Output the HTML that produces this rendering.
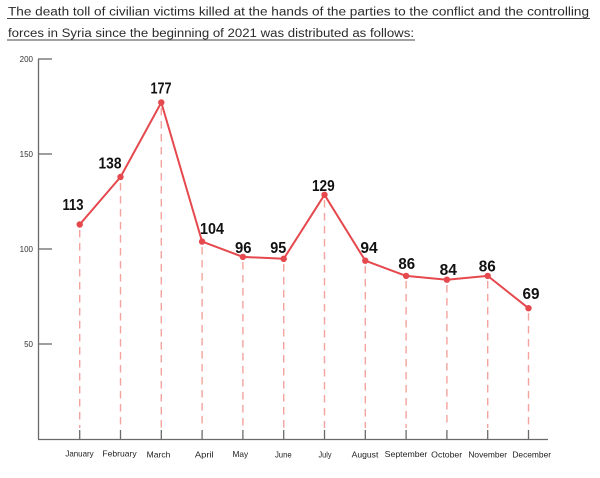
<!DOCTYPE html>
<html>
<head>
<meta charset="utf-8">
<style>
html,body{margin:0;padding:0;background:#fff;}
svg{display:block;}
text{font-family:"Liberation Sans",sans-serif;}
</style>
</head>
<body>
<svg width="600" height="478" viewBox="0 0 600 478" xmlns="http://www.w3.org/2000/svg">
<rect width="600" height="478" fill="#fff"/>
<!-- Title -->
<text x="8" y="15.5" font-size="11.5" fill="#2a2a2a" textLength="581" lengthAdjust="spacingAndGlyphs">The death toll of civilian victims killed at the hands of the parties to the conflict and the controlling</text>
<line x1="7" y1="18.5" x2="590" y2="18.5" stroke="#444" stroke-width="1"/>
<text x="8" y="37" font-size="11.5" fill="#2a2a2a" textLength="406" lengthAdjust="spacingAndGlyphs">forces in Syria since the beginning of 2021 was distributed as follows:</text>
<line x1="7" y1="40" x2="415" y2="40" stroke="#444" stroke-width="1"/>

<!-- Axes -->
<g stroke="#6a6a6a" stroke-width="1.3" fill="none">
<line x1="38.5" y1="59" x2="38.5" y2="439.5"/>
<line x1="38" y1="439.5" x2="548" y2="439.5"/>
<line x1="38" y1="59" x2="52" y2="59"/>
<line x1="38" y1="154" x2="52" y2="154"/>
<line x1="38" y1="249" x2="52" y2="249"/>
<line x1="38" y1="344" x2="52" y2="344"/>
<line x1="79.7" y1="430" x2="79.7" y2="439"/>
<line x1="120.5" y1="430" x2="120.5" y2="439"/>
<line x1="161.3" y1="430" x2="161.3" y2="439"/>
<line x1="202.1" y1="430" x2="202.1" y2="439"/>
<line x1="242.9" y1="430" x2="242.9" y2="439"/>
<line x1="283.7" y1="430" x2="283.7" y2="439"/>
<line x1="324.5" y1="430" x2="324.5" y2="439"/>
<line x1="365.3" y1="430" x2="365.3" y2="439"/>
<line x1="406.1" y1="430" x2="406.1" y2="439"/>
<line x1="446.9" y1="430" x2="446.9" y2="439"/>
<line x1="487.7" y1="430" x2="487.7" y2="439"/>
<line x1="528.5" y1="430" x2="528.5" y2="439"/>
</g>
<g font-size="8" fill="#333" text-anchor="end">
<text x="33" y="62">200</text>
<text x="33" y="157">150</text>
<text x="33" y="252">100</text>
<text x="33" y="347">50</text>
</g>

<!-- Dashed drop lines -->
<g stroke="#f4a39d" stroke-width="1.4" stroke-dasharray="7.5 5.5" fill="none">
<line x1="79.7" y1="230" x2="79.7" y2="428"/>
<line x1="120.5" y1="183" x2="120.5" y2="428"/>
<line x1="161.3" y1="108" x2="161.3" y2="428"/>
<line x1="202.1" y1="247" x2="202.1" y2="428"/>
<line x1="242.9" y1="262" x2="242.9" y2="428"/>
<line x1="283.7" y1="264" x2="283.7" y2="428"/>
<line x1="324.5" y1="200" x2="324.5" y2="428"/>
<line x1="365.3" y1="266" x2="365.3" y2="428"/>
<line x1="406.1" y1="281" x2="406.1" y2="428"/>
<line x1="446.9" y1="285" x2="446.9" y2="428"/>
<line x1="487.7" y1="281" x2="487.7" y2="428"/>
<line x1="528.5" y1="313" x2="528.5" y2="428"/>
</g>

<!-- Series -->
<polyline fill="none" stroke="#e5484d" stroke-width="2" stroke-linejoin="round"
points="79.7,224.5 120.5,177 161.3,102.5 202.1,241.6 242.9,256.9 283.7,258.8 324.5,194.8 365.3,260.7 406.1,275.9 446.9,279.7 487.7,275.9 528.5,308.2"/>
<g fill="#e5484d">
<circle cx="79.7" cy="224.5" r="3.2"/>
<circle cx="120.5" cy="177" r="3.2"/>
<circle cx="161.3" cy="102.5" r="3.2"/>
<circle cx="202.1" cy="241.6" r="3.2"/>
<circle cx="242.9" cy="256.9" r="3.2"/>
<circle cx="283.7" cy="258.8" r="3.2"/>
<circle cx="324.5" cy="194.8" r="3.2"/>
<circle cx="365.3" cy="260.7" r="3.2"/>
<circle cx="406.1" cy="275.9" r="3.2"/>
<circle cx="446.9" cy="279.7" r="3.2"/>
<circle cx="487.7" cy="275.9" r="3.2"/>
<circle cx="528.5" cy="308.2" r="3.2"/>
</g>

<!-- Data labels -->
<g font-size="16" font-weight="bold" fill="#111" text-anchor="middle">
<text x="73" y="209.8" textLength="21" lengthAdjust="spacingAndGlyphs">113</text>
<text x="110" y="168.6" textLength="23" lengthAdjust="spacingAndGlyphs">138</text>
<text x="161" y="93.3" textLength="21" lengthAdjust="spacingAndGlyphs">177</text>
<text x="212" y="233.8" textLength="24" lengthAdjust="spacingAndGlyphs">104</text>
<text x="243.3" y="253.1" textLength="16.5" lengthAdjust="spacingAndGlyphs">96</text>
<text x="278.3" y="253.1" textLength="16" lengthAdjust="spacingAndGlyphs">95</text>
<text x="323.3" y="190.8" textLength="22.7" lengthAdjust="spacingAndGlyphs">129</text>
<text x="369" y="252.8" textLength="17.3" lengthAdjust="spacingAndGlyphs">94</text>
<text x="406.7" y="269.1" textLength="16.7" lengthAdjust="spacingAndGlyphs">86</text>
<text x="448.3" y="274.8" textLength="17.3" lengthAdjust="spacingAndGlyphs">84</text>
<text x="487.3" y="271.3" textLength="17" lengthAdjust="spacingAndGlyphs">86</text>
<text x="531" y="299.1" textLength="17" lengthAdjust="spacingAndGlyphs">69</text>
</g>

<!-- Month labels -->
<g font-size="8.5" fill="#222" text-anchor="middle">
<text x="79.5" y="456.5" textLength="28.3" lengthAdjust="spacingAndGlyphs">January</text>
<text x="119.5" y="456.5" textLength="34.3" lengthAdjust="spacingAndGlyphs">February</text>
<text x="158.5" y="457.5" textLength="23.7" lengthAdjust="spacingAndGlyphs">March</text>
<text x="204.3" y="457.5" textLength="18.7" lengthAdjust="spacingAndGlyphs">April</text>
<text x="240.3" y="457" textLength="15.7" lengthAdjust="spacingAndGlyphs">May</text>
<text x="283.3" y="457.5" textLength="16.7" lengthAdjust="spacingAndGlyphs">June</text>
<text x="325" y="457.5" textLength="13" lengthAdjust="spacingAndGlyphs">July</text>
<text x="365" y="457.5" textLength="26.7" lengthAdjust="spacingAndGlyphs">August</text>
<text x="406" y="457" textLength="42.7" lengthAdjust="spacingAndGlyphs">September</text>
<text x="446.7" y="457.5" textLength="31" lengthAdjust="spacingAndGlyphs">October</text>
<text x="487.7" y="457.5" textLength="38.7" lengthAdjust="spacingAndGlyphs">November</text>
<text x="531.7" y="457.5" textLength="38.7" lengthAdjust="spacingAndGlyphs">December</text>
</g>
</svg>
</body>
</html>
